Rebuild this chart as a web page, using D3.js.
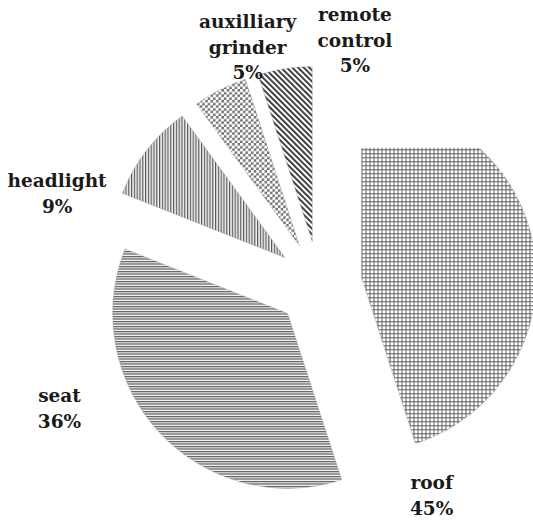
<!DOCTYPE html>
<html>
<head>
<meta charset="utf-8">
<script src="https://cdn.jsdelivr.net/npm/d3@7/dist/d3.min.js"></script>
<style>
  html, body { margin: 0; padding: 0; background: #fff; }
  svg { display: block; }
  text { font-family: "DejaVu Serif", "Liberation Serif", serif; font-weight: bold; fill: #1a1a1a; }
</style>
</head>
<body>
<svg id="chart" width="533" height="522"></svg>
<script>
// Share of items, clockwise from twelve o'clock
const categories = ["roof", "seat", "headlight", "auxilliary grinder", "remote control"];
const shares = [45, 36, 9, 5, 5];
const labelLines = [["roof", "45%"], ["seat", "36%"], ["headlight", "9%"], ["auxilliary", "grinder", "5%"], ["remote", "control", "5%"]];
const patternIds = ["grid", "hlines", "vlines", "dots", "diag"];

const width = 533, height = 522;
const cx = 319, cy = 284;
const radius = 175;
const explode = 43;

// label placement: angle (deg, clockwise from top) and distance from pie centre
const labelPlacement = [
  { angle: 152, dist: 240 },
  { angle: 244.3, dist: 288 },
  { angle: 289, dist: 277 },
  { angle: 343.2, dist: 247 },
  { angle: 8.4, dist: 246 }
];

const svg = d3.select("#chart");
const defs = svg.append("defs");

// hatch fills
const grid = defs.append("pattern").attr("id", "grid").attr("patternUnits", "userSpaceOnUse")
  .attr("width", 4).attr("height", 4);
grid.append("rect").attr("width", 4).attr("height", 4).attr("fill", "#fff");
grid.append("rect").attr("x", 0).attr("y", 0).attr("width", 4).attr("height", 1).attr("fill", "#5e5e5e");
grid.append("rect").attr("x", 0).attr("y", 0).attr("width", 1).attr("height", 4).attr("fill", "#5e5e5e");

const hl = defs.append("pattern").attr("id", "hlines").attr("patternUnits", "userSpaceOnUse")
  .attr("width", 4).attr("height", 2.5);
hl.append("rect").attr("width", 4).attr("height", 2.5).attr("fill", "#f2f2f2");
hl.append("rect").attr("y", 0).attr("width", 4).attr("height", 1.2).attr("fill", "#5a5a5a");

const vl = defs.append("pattern").attr("id", "vlines").attr("patternUnits", "userSpaceOnUse")
  .attr("width", 2.8).attr("height", 4);
vl.append("rect").attr("width", 2.8).attr("height", 4).attr("fill", "#f2f2f2");
vl.append("rect").attr("x", 0).attr("width", 1.2).attr("height", 4).attr("fill", "#5a5a5a");

const dots = defs.append("pattern").attr("id", "dots").attr("patternUnits", "userSpaceOnUse")
  .attr("width", 5.4).attr("height", 5.4);
dots.append("rect").attr("width", 5.4).attr("height", 5.4).attr("fill", "#6a6a6a");
[[1.35, 1.35], [4.05, 4.05]].forEach(([x, y]) => {
  dots.append("circle").attr("cx", x).attr("cy", y).attr("r", 1.75).attr("fill", "#fff");
});

const diag = defs.append("pattern").attr("id", "diag").attr("patternUnits", "userSpaceOnUse")
  .attr("width", 4).attr("height", 4).attr("patternTransform", "rotate(-45)");
diag.append("rect").attr("width", 4).attr("height", 4).attr("fill", "#fff");
diag.append("rect").attr("x", 0).attr("width", 1.8).attr("height", 4).attr("fill", "#2e2e2e");

// the largest slice is trimmed along the top (in pie-centred coordinates)
defs.append("clipPath").attr("id", "trimTop")
  .append("rect").attr("x", -width).attr("y", 148 - cy).attr("width", width * 2).attr("height", height * 2);

const pie = d3.pie().sort(null).value(d => d);
const arcs = pie(shares);
const arcGen = d3.arc().innerRadius(0).outerRadius(radius);

const g = svg.append("g").attr("transform", `translate(${cx},${cy})`);

const slices = g.selectAll("g.slice")
  .data(arcs)
  .join("g")
  .attr("class", "slice")
  .attr("clip-path", (d, i) => i === 0 ? "url(#trimTop)" : null);

slices.append("path")
  .attr("d", arcGen)
  .attr("fill", (d, i) => `url(#${patternIds[i]})`)
  .attr("stroke", "#9a9a9a")
  .attr("stroke-width", 0.4)
  .attr("transform", d => {
    const mid = (d.startAngle + d.endAngle) / 2;
    return `translate(${explode * Math.sin(mid)},${-explode * Math.cos(mid)})`;
  });

// labels
const lineHeight = 25.5;
const labels = g.selectAll("text.label")
  .data(arcs)
  .join("text")
  .attr("class", "label")
  .attr("text-anchor", "middle")
  .style("font-size", "18.5px");

labels.each(function (d, i) {
  const p = labelPlacement[i];
  const a = p.angle * Math.PI / 180;
  const x = p.dist * Math.sin(a);
  const y = -p.dist * Math.cos(a);
  const lines = labelLines[i];
  const top = y - (lines.length - 1) * lineHeight / 2 + 6;
  d3.select(this).selectAll("tspan")
    .data(lines)
    .join("tspan")
    .attr("x", x)
    .attr("y", (t, j) => top + j * lineHeight)
    .text(t => t);
});
</script>
</body>
</html>
